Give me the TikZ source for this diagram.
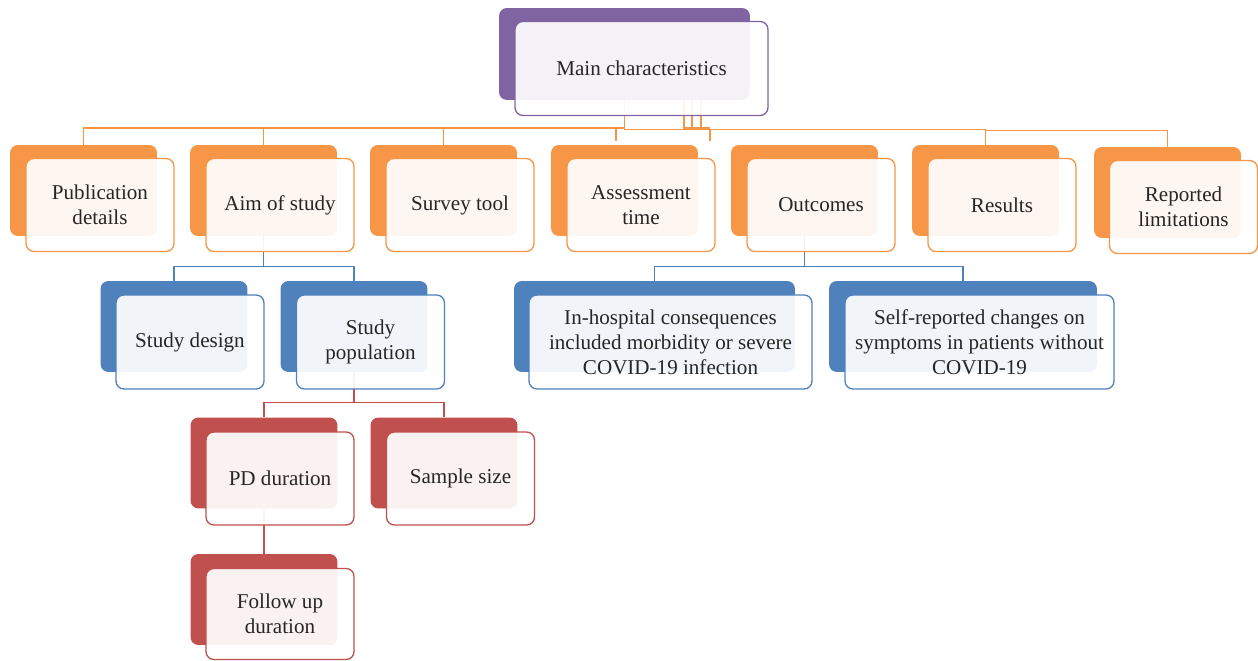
\documentclass[tikz,border=0pt]{standalone}
\usepackage{fontspec}
\setmainfont{Liberation Serif}
\usetikzlibrary{calc,backgrounds}
\definecolor{cpurple}{HTML}{8064A2}
\definecolor{corange}{HTML}{F79646}
\definecolor{cblue}{HTML}{4F81BD}
\definecolor{cred}{HTML}{C0504D}
\definecolor{txt}{HTML}{262626}
\tikzset{
  dkbox/.style={draw=none, fill=#1, rounded corners=4.5pt, inner sep=0pt,
    minimum width=2.94cm, minimum height=1.82cm},
  olbox/.style={draw=#1, line width=0.75pt, fill=white, fill opacity=0.92, text opacity=1,
    rounded corners=4.5pt, inner sep=0pt, minimum width=2.96cm, minimum height=1.86cm,
    align=center, font=\fontsize{12}{14.3}\selectfont, text=txt},
  con/.style={draw=#1, line width=0.75pt}
}
\begin{document}
\begin{tikzpicture}[x=0.02cm,y=-0.02cm]
\useasboundingbox (0,0) rectangle (1258,661);
% main
\node[dkbox=cpurple, minimum width=5.02cm, minimum height=1.84cm] (mainD) at (624.5,54) {};
\node[olbox=cpurple, minimum width=5.06cm, minimum height=1.88cm] (main) at (641.5,68.5) {Main characteristics};
% top row
\node[dkbox=corange] (pubD) at (83.5,190.5) {};
\node[olbox=corange] (pub) at (100,205) {Publication\\details};
\node[dkbox=corange] (aimD) at (263.5,190.5) {};
\node[olbox=corange] (aim) at (280,205) {Aim of study};
\node[dkbox=corange] (surD) at (443.5,190.5) {};
\node[olbox=corange] (sur) at (460,205) {Survey tool};
\node[dkbox=corange] (assD) at (624.5,190.5) {};
\node[olbox=corange] (ass) at (641,205) {Assessment\\time};
\node[dkbox=corange] (outD) at (804.5,190.5) {};
\node[olbox=corange] (out) at (821,205) {Outcomes};
\node[dkbox=corange] (resD) at (985.5,190.5) {};
\node[olbox=corange] (res) at (1002,205) {Results};
\node[dkbox=corange] (limD) at (1167.5,192.5) {};
\node[olbox=corange] (lim) at (1183.5,207) {Reported\\limitations};
% blue row
\node[dkbox=cblue] (desD) at (174,326.5) {};
\node[olbox=cblue, minimum height=1.88cm] (des) at (190,342) {Study design};
\node[dkbox=cblue] (popD) at (354,326.5) {};
\node[olbox=cblue, minimum height=1.88cm] (pop) at (370.5,342) {Study\\population};
\node[dkbox=cblue, minimum width=5.62cm] (hosD) at (654.5,326.5) {};
\node[olbox=cblue, minimum width=5.66cm, minimum height=1.88cm] (hos) at (670.5,342) {In-hospital consequences\\included morbidity or severe\\COVID-19 infection};
\node[dkbox=cblue, minimum width=5.36cm] (selD) at (963,326.5) {};
\node[olbox=cblue, minimum width=5.38cm, minimum height=1.88cm] (sel) at (979.5,342) {Self-reported changes on\\symptoms in patients without\\COVID-19};
% red row
\node[dkbox=cred] (pdD) at (264,463) {};
\node[olbox=cred] (pd) at (280,478.5) {PD duration};
\node[dkbox=cred] (ssD) at (444,463) {};
\node[olbox=cred] (ss) at (460.5,478.5) {Sample size};
\node[dkbox=cred] (fuD) at (264,599.5) {};
\node[olbox=cred, minimum height=1.82cm] (fu) at (280,614) {Follow up\\duration};
% connectors
\begin{scope}[on background layer]
\coordinate (busA) at (0,128);
\coordinate (outdrop) at ($(outD.north)+(-94.5,-4)$);
\coordinate (assdrop) at ($(assD.north)+(-8.5,-4)$);
\coordinate (m1) at ($(mainD.south)+(59.5,0)$);
\coordinate (m2) at ($(mainD.south)+(67.5,0)$);
\coordinate (m3) at ($(mainD.south)+(76.5,0)$);
\draw[con=corange] (pubD.north) |- (busA -| mainD.south);
\draw[con=corange] (aimD.north) -- (aimD.north |- busA);
\draw[con=corange] (surD.north) -- (surD.north |- busA);
\draw[con=corange] (assdrop) -- (assdrop |- busA);
\draw[con=corange] (mainD.south) |- ($(outdrop)+(0,-11)$) -- (outdrop);
\draw[con=corange] (m1) |- (outdrop |- busA);
\draw[con=corange] (m2) -- (m2 |- busA);
\draw[con=corange] (m3) -- (m3 |- busA);
\draw[con=corange] ($(outdrop)+(0,-11)$) -| (resD.north);
\draw[con=corange] ($(resD.north)+(0,-14)$) -| (limD.north);
\draw[con=cblue] (aimD.south) -- ($(aimD.south)+(0,31)$);
\draw[con=cblue] (desD.north) -- ++(0,-14) -| (popD.north);
\draw[con=cblue] (outD.south) -- ($(outD.south)+(0,31)$);
\draw[con=cblue] (hosD.north) -- ++(0,-14) -| (selD.north);
\draw[con=cred] (popD.south) -- ($(popD.south)+(0,31)$);
\draw[con=cred] (pdD.north) -- ++(0,-14.5) -| (ssD.north);
\draw[con=cred] (pdD.south) -- (fuD.north);
\end{scope}
\end{tikzpicture}
\end{document}
